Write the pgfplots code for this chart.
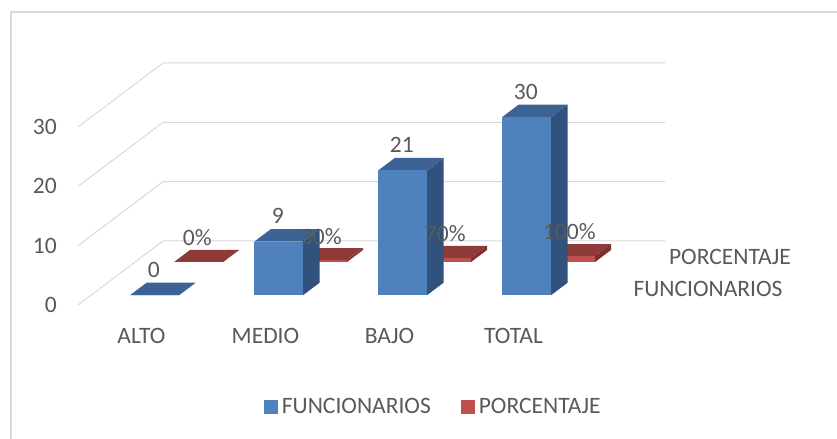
\documentclass[border=0pt]{standalone}
\usepackage{pgfplots}
\usepackage{pgfplotstable}
\pgfplotsset{compat=1.18}
\usepackage{fontspec}
\setmainfont{Carlito}
\definecolor{txt}{HTML}{595959}
\definecolor{gridc}{HTML}{D9D9D9}
\definecolor{bF}{HTML}{4F81BD}
\definecolor{bT}{HTML}{3D6394}
\definecolor{bS}{HTML}{31527D}
\definecolor{rF}{HTML}{C0504D}
\definecolor{rT}{HTML}{8E3A38}
\definecolor{rS}{HTML}{7A302E}

\pgfplotstableread{
cat val
0 0
1 9
2 21
3 30
}\func
\pgfplotstableread{
cat val
0 0
1 0.3
2 0.7
3 1
}\porc

\def\Dx{0.6855}\def\Dy{10.787}\def\hw{0.1976}
% #1 category, #2 value, #3 front depth, #4 back depth, #5 front, #6 top, #7 side colour
\newcommand\cube[7]{%
 \pgfmathsetmacro\cXl{#1-\hw+#3*\Dx}%
 \pgfmathsetmacro\cXr{#1+\hw+#3*\Dx}%
 \pgfmathsetmacro\cYb{#3*\Dy}%
 \pgfmathsetmacro\cYt{#2+#3*\Dy}%
 \pgfmathsetmacro\cXlb{#1-\hw+#4*\Dx}%
 \pgfmathsetmacro\cXrb{#1+\hw+#4*\Dx}%
 \pgfmathsetmacro\cYbb{#4*\Dy}%
 \pgfmathsetmacro\cYtb{#2+#4*\Dy}%
 \edef\cTmp{%
  \noexpand\addplot[fill=#7, draw=none] coordinates {(\cXr,\cYb) (\cXrb,\cYbb) (\cXrb,\cYtb) (\cXr,\cYt)} -- cycle;
  \noexpand\addplot[fill=#6, draw=none] coordinates {(\cXl,\cYt) (\cXr,\cYt) (\cXrb,\cYtb) (\cXlb,\cYtb)} -- cycle;
  \noexpand\addplot[fill=#5, draw=none] coordinates {(\cXl,\cYb) (\cXr,\cYb) (\cXr,\cYt) (\cXl,\cYt)} -- cycle;
 }\cTmp
}

\begin{document}
\begin{tikzpicture}
\useasboundingbox (0,0) rectangle (837bp,439bp);
\draw[gridc, line width=1.5bp] (11bp,0) -- (11bp,427bp) -- (837bp,427bp);
\begin{axis}[
  at={(78bp,134bp)}, anchor=south west,
  scale only axis, width=587bp, height=242bp,
  xmin=-0.512, xmax=4.222, ymin=0, ymax=40.787,
  clip=false,
  axis line style={draw=none},
  major tick length=0pt,
  xtick={0,1,2,3},
  xticklabels={ALTO,MEDIO,BAJO,TOTAL},
  ytick={0,10,20,30},
  tick label style={font=\fontsize{23.5bp}{27bp}\selectfont, text=txt},
  /pgf/number format/assume math mode=true,
  yticklabel style={anchor=east, inner sep=0pt, xshift=-21bp},
  xticklabel style={anchor=north, inner sep=0pt, yshift=-23bp},
  legend style={draw=none, fill=none, font=\fontsize{23.5bp}{27bp}\selectfont, text=txt,
    legend columns=2, at={(0.607,-0.4215)}, anchor=center,
    nodes={inner xsep=4bp, inner ysep=0pt},
    /tikz/every even column/.append style={column sep=26bp}},
  legend image code/.code={\fill[#1] (-3bp,-7bp) rectangle (11bp,7bp);},
]
\addlegendimage{fill=bF, draw=none}
\addlegendentry{FUNCIONARIOS}
\addlegendimage{fill=rF, draw=none}
\addlegendentry{PORCENTAJE}

% 3D walls (gridlines)
\addplot[gridc, line width=1bp] coordinates {(-0.512,0) (0.1735,10.787) (4.222,10.787)};
\addplot[gridc, line width=1bp] coordinates {(-0.512,10) (0.1735,20.787) (4.222,20.787)};
\addplot[gridc, line width=1bp] coordinates {(-0.512,20) (0.1735,30.787) (4.222,30.787)};
\addplot[gridc, line width=1bp] coordinates {(-0.512,30) (0.1735,40.787) (4.222,40.787)};

% PORCENTAJE (back row)
\pgfplotsforeachungrouped \i in {0,1,2,3}{%
  \pgfplotstablegetelem{\i}{val}\of\porc
  \let\v\pgfplotsretval
  \cube{\i}{\v}{0.672}{0.86}{rF}{rT}{rS}%
}
% FUNCIONARIOS (front row)
\pgfplotsforeachungrouped \i in {0,1,2,3}{%
  \pgfplotstablegetelem{\i}{val}\of\func
  \let\v\pgfplotsretval
  \cube{\i}{\v}{0.156}{0.35}{bF}{bT}{bS}%
}

% data labels
\addplot[draw=none, mark=none, point meta=explicit,
  nodes near coords={\pgfmathprintnumber{\pgfplotspointmeta}\%},
  every node near coord/.append style={anchor=center, inner sep=0pt,
    font=\fontsize{23.5bp}{27bp}\selectfont, text=txt}]
  table[x expr=\thisrow{cat}+0.45, y expr=\thisrow{val}+11.3, meta expr=\thisrow{val}*100] {\porc};
\addplot[draw=none, mark=none, point meta=explicit,
  nodes near coords={\pgfmathprintnumber{\pgfplotspointmeta}},
  every node near coord/.append style={anchor=center, inner sep=0pt,
    font=\fontsize{23.5bp}{27bp}\selectfont, text=txt}]
  table[x expr=\thisrow{cat}+0.1, y expr=\thisrow{val}+5.95, meta=val] {\func};
\end{axis}
\node[text=txt, font=\fontsize{23.5bp}{27bp}\selectfont, inner sep=0pt] at (730bp,182bp) {PORCENTAJE};
\node[text=txt, font=\fontsize{23.5bp}{27bp}\selectfont, inner sep=0pt] at (708bp,150bp) {FUNCIONARIOS};
\end{tikzpicture}
\end{document}
